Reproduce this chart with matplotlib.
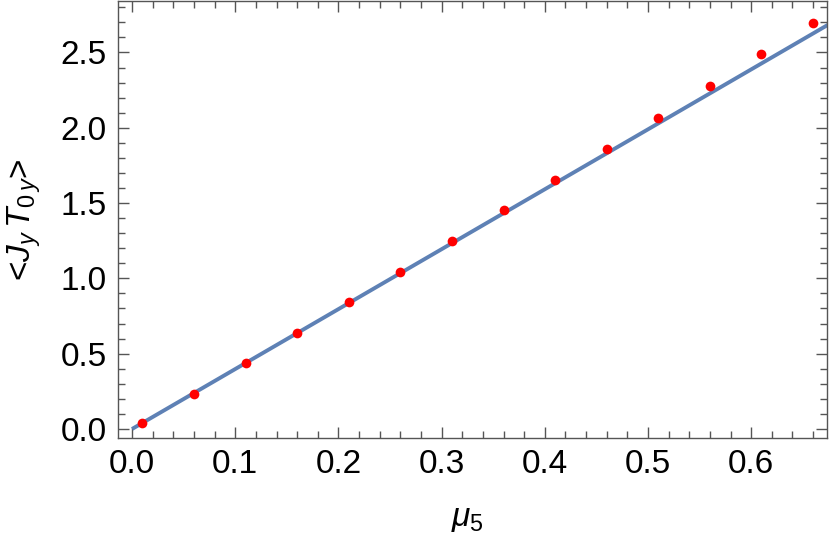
import matplotlib
matplotlib.use("Agg")
import matplotlib.pyplot as plt
from matplotlib.ticker import MultipleLocator

plt.rcParams['font.family'] = ['Liberation Sans', 'DejaVu Sans']
plt.rcParams['mathtext.fontset'] = 'custom'
plt.rcParams['mathtext.rm'] = 'Liberation Sans'
plt.rcParams['mathtext.it'] = 'Liberation Sans:italic'

# data points
mu5 = [0.01, 0.06, 0.11, 0.16, 0.21, 0.26, 0.31, 0.36, 0.41, 0.46, 0.51, 0.56, 0.61, 0.66]
jt = [0.037, 0.235, 0.437, 0.640, 0.841, 1.042, 1.249, 1.452, 1.656, 1.861,
      2.067, 2.277, 2.487, 2.699]

# straight fit line end points
fit_x = [0.0, 0.68]
fit_y = [0.0, 2.706]

frame_col = '#555555'

fig = plt.figure(figsize=(8.3, 5.46), dpi=100)
ax = fig.add_axes([0.1422, 0.1978, 0.8542, 0.8012])

ax.plot(fit_x, fit_y, color='#5E81B5', lw=2.8, solid_capstyle='butt', zorder=2)
ax.plot(mu5, jt, 'o', color='red', ms=7, mec='none', zorder=3)

ax.set_xlim(-0.0136, 0.6735)
ax.set_ylim(-0.06, 2.845)

ax.xaxis.set_major_locator(MultipleLocator(0.1))
ax.xaxis.set_minor_locator(MultipleLocator(0.02))
ax.yaxis.set_major_locator(MultipleLocator(0.5))
ax.yaxis.set_minor_locator(MultipleLocator(0.1))
ax.xaxis.set_major_formatter(plt.FormatStrFormatter('%.1f'))
ax.yaxis.set_major_formatter(plt.FormatStrFormatter('%.1f'))

ax.tick_params(which='both', direction='in', top=True, right=True,
               color=frame_col, width=1.0, labelsize=24, labelcolor='black')
ax.tick_params(which='major', length=8, pad=8)
ax.tick_params(which='minor', length=5)
for s in ax.spines.values():
    s.set_color(frame_col)
    s.set_linewidth(1.0)

# axis titles placed by pixel centre of the reference
fig.text(24 / 830, 1 - 220 / 546, r'<$J_y\,T_{0\,y}$>', fontsize=24,
         rotation=90, ha='center', va='center')
fig.text(467 / 830, 1 - 519 / 546, r'$\mu_5$', fontsize=24,
         ha='center', va='center')

fig.savefig('out.png', dpi=100)
